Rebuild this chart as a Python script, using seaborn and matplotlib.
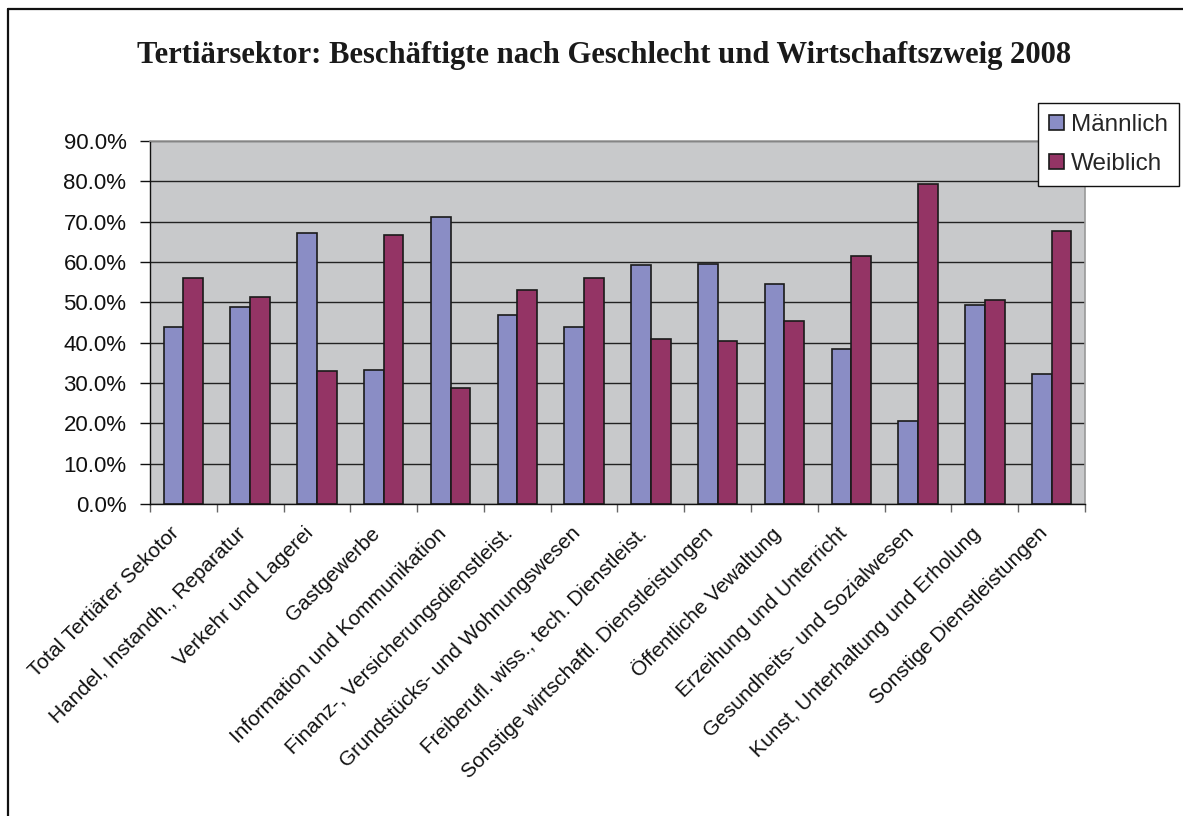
import pandas as pd
import matplotlib
matplotlib.use("Agg")
import matplotlib.pyplot as plt
import matplotlib.ticker as mticker
import matplotlib.transforms as mtransforms
from matplotlib.lines import Line2D
import seaborn as sns

# Wirtschaftszweige (x-axis categories)
branchen = [
    "Total Tertiärer Sekotor",
    "Handel, Instandh., Reparatur",
    "Verkehr und Lagerei",
    "Gastgewerbe",
    "Information und Kommunikation",
    "Finanz-, Versicherungsdienstleist.",
    "Grundstücks- und Wohnungswesen",
    "Freiberufl. wiss., tech. Dienstleist.",
    "Sonstige wirtschaftl. Dienstleistungen",
    "Öffentliche Vewaltung",
    "Erzeihung und Unterricht",
    "Gesundheits- und Sozialwesen",
    "Kunst, Unterhaltung und Erholung",
    "Sonstige Dienstleistungen",
]
maennlich = [0.440, 0.488, 0.671, 0.333, 0.712, 0.469, 0.440, 0.592,
             0.595, 0.546, 0.384, 0.207, 0.493, 0.323]
weiblich = [0.560, 0.512, 0.329, 0.667, 0.288, 0.531, 0.560, 0.408,
            0.405, 0.454, 0.616, 0.793, 0.507, 0.677]
serien = ["Männlich", "Weiblich"]
farben = ["#8A8DC5", "#943465"]

df = pd.DataFrame({
    "Branche": branchen * 2,
    "Anteil": maennlich + weiblich,
    "Geschlecht": [serien[0]] * len(branchen) + [serien[1]] * len(branchen),
})

sns.set_style("white")
plt.rcParams["font.family"] = ["Liberation Sans", "DejaVu Sans"]

fig = plt.figure(figsize=(11.83, 8.16), dpi=100)
ax = fig.add_axes([150 / 1183, 1 - 504 / 816, (1085 - 150) / 1183, (504 - 141) / 816])

sns.barplot(data=df, x="Branche", y="Anteil", hue="Geschlecht", palette=farben,
            width=0.59, gap=0, edgecolor="#1a1a1a", linewidth=1.2, saturation=1,
            ax=ax, legend=True)

ax.set_facecolor("#C8C9CB")
ax.set_xlim(-0.5, len(branchen) - 0.5)
ax.set_ylim(0, 0.9)
ax.yaxis.set_major_locator(mticker.MultipleLocator(0.1))
ax.yaxis.set_major_formatter(mticker.FuncFormatter(lambda v, p: f"{v * 100:.1f}%"))
ax.grid(axis="y", color="#222222", linewidth=1.0)
ax.set_axisbelow(True)
ax.set_xlabel("")
ax.set_ylabel("")

for side in ["top", "right"]:
    ax.spines[side].set_color("#999999")
    ax.spines[side].set_linewidth(1.2)
for side in ["left", "bottom"]:
    ax.spines[side].set_color("#111111")
    ax.spines[side].set_linewidth(1.0)

ax.tick_params(axis="y", which="major", direction="out", length=7, width=1,
               color="#111111", labelsize=16, labelcolor="#111111", pad=10, left=True)

# category labels, tick marks between the categories
ax.set_xticks(range(len(branchen)))
ax.set_xticklabels(branchen, rotation=45, ha="right", va="center",
                   rotation_mode="anchor", fontsize=15, color="#111111")
ax.tick_params(axis="x", which="major", length=0, pad=19)
shift = mtransforms.ScaledTranslation(-7 / 100, 0, fig.dpi_scale_trans)
for lbl in ax.get_xticklabels():
    lbl.set_transform(lbl.get_transform() + shift)
ax.set_xticks([i - 0.5 for i in range(len(branchen) + 1)], minor=True)
ax.tick_params(axis="x", which="minor", direction="out", length=6, width=1,
               color="#666666", bottom=True)

leg = ax.legend(loc="upper right", bbox_to_anchor=(1179 / 1183, 1 - 103 / 816),
                bbox_transform=fig.transFigure, frameon=True, fancybox=False,
                fontsize=17.5, handlelength=0.62, handleheight=0.62, handletextpad=0.3,
                borderpad=0.45, labelspacing=0.7, borderaxespad=0)
leg.get_frame().set_edgecolor("#111111")
leg.get_frame().set_linewidth(1.0)
leg.get_frame().set_facecolor("white")
leg.get_frame().set_alpha(1)

fig.text(604.5 / 1183, 1 - 56 / 816,
         "Tertiärsektor: Beschäftigte nach Geschlecht und Wirtschaftszweig 2008",
         ha="center", va="center", fontsize=22.1, fontweight="bold",
         family=["Liberation Serif", "DejaVu Serif"], color="#1a1a1a")

# outer frame of the chart area
fig.add_artist(Line2D([8 / 1183, 8 / 1183], [0, 1 - 9 / 816], color="#111111", linewidth=1.6))
fig.add_artist(Line2D([8 / 1183, 1], [1 - 9 / 816, 1 - 9 / 816], color="#111111", linewidth=1.6))

fig.savefig("out.png", dpi=100)
